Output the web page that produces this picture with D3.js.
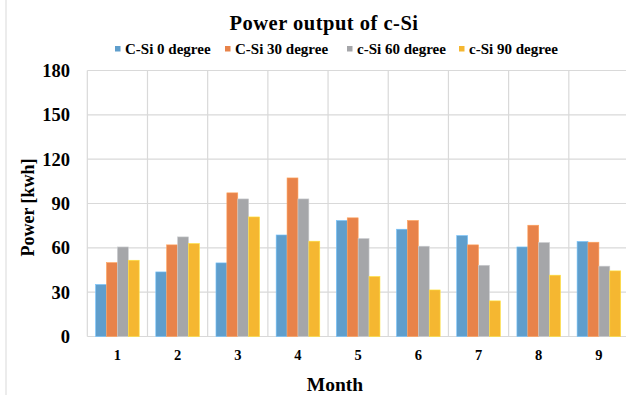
<!DOCTYPE html>
<html><head><meta charset="utf-8">
<script src="https://cdn.jsdelivr.net/npm/d3@7"></script>
<style>body{margin:0;background:#fff;}svg{display:block;}text{font-family:"Liberation Serif","Times New Roman",serif;font-weight:bold;fill:#000;}</style>
</head><body><svg id="c" width="626" height="395"></svg>
<script>
const months = ["1","2","3","4","5","6","7","8","9"];
const seriesNames = ["C-Si 0 degree","C-Si 30 degree","c-Si 60 degree","c-Si 90 degree"];
const s0 = [35.2, 43.7, 49.8, 68.7, 78.5, 72.6, 68.3, 60.6, 64.3];
const s30 = [50.0, 62.0, 97.2, 107.3, 80.3, 78.5, 62.0, 75.3, 63.8];
const s60 = [60.6, 67.4, 93.1, 93.1, 66.3, 61.1, 48.2, 63.6, 47.6];
const s90 = [51.6, 62.9, 80.9, 64.5, 40.6, 31.5, 24.1, 41.5, 44.4];
const yTicks = [0, 30, 60, 90, 120, 150, 180];
const colors = ["#5F9ECC", "#E8834A", "#A5A6A9", "#F5B731"];
const seriesVals = [s0, s30, s60, s90];

const svg = d3.select("#c");
const L = 87.3, R = 629, T = 70.5, B = 336.5;
const x = d3.scaleBand().domain(months).range([L, R]).paddingInner(0).paddingOuter(0);
const xs = d3.scaleBand().domain(d3.range(4)).range([0, x.bandwidth()]).paddingInner(0).paddingOuter(0.76);
const y = d3.scaleLinear().domain([0, 180]).range([B, T]);

// chart border line at left
svg.append("line").attr("x1",6).attr("x2",6).attr("y1",0).attr("y2",395).attr("stroke","#d9d9d9").attr("stroke-width",1);

// grid
svg.append("g").selectAll("line").data(yTicks).join("line")
  .attr("x1", L).attr("x2", R).attr("y1", d => y(d)).attr("y2", d => y(d))
  .attr("stroke", "#d9d9d9").attr("stroke-width", 1.2);
svg.append("g").selectAll("line").data(months.concat(["end"])).join("line")
  .attr("x1", (d,i) => L + i * x.bandwidth()).attr("x2", (d,i) => L + i * x.bandwidth())
  .attr("y1", T).attr("y2", B).attr("stroke", "#d9d9d9").attr("stroke-width", 1.2);

// bars
seriesVals.forEach((vals, si) => {
  svg.append("g").selectAll("rect").data(vals).join("rect")
    .attr("x", (d,i) => x(months[i]) + xs(si))
    .attr("width", xs.bandwidth())
    .attr("y", d => y(d))
    .attr("height", d => y(0) - y(d))
    .attr("fill", colors[si])
    .attr("stroke", d3.color(colors[si]).brighter(0.6))
    .attr("stroke-width", 0.6);
});

// y axis labels
const yAxis = d3.axisLeft(y).tickValues(yTicks).tickSize(0).tickPadding(0);
const gy = svg.append("g").attr("transform", `translate(70,0)`).call(yAxis);
gy.select(".domain").remove();
gy.selectAll("text").style("font-size", "18.5px").attr("dy", "0.33em");

// x axis labels
const xAxis = d3.axisBottom(x).tickSize(0).tickPadding(0);
const gx = svg.append("g").attr("transform", `translate(0,355)`).call(xAxis);
gx.select(".domain").remove();
gx.selectAll("text").style("font-size", "14.5px").attr("dy", "0.33em");

// titles
svg.append("text").attr("x", 324).attr("y", 30).attr("text-anchor","middle")
  .style("font-size","20.5px").style("letter-spacing","0.5px").text("Power output of c-Si");
svg.append("text").attr("x", 335).attr("y", 391).attr("text-anchor","middle")
  .style("font-size","19.5px").text("Month");
svg.append("text").attr("transform","translate(33.5,207.5) rotate(-90)").attr("text-anchor","middle")
  .style("font-size","18px").text("Power [kwh]");

// legend
const legX = [115, 225, 347, 459];
const lg = svg.append("g").selectAll("g").data(seriesNames).join("g")
  .attr("transform", (d,i) => `translate(${legX[i]},0)`);
lg.append("rect").attr("x",0).attr("y",46).attr("width",5.5).attr("height",5.5).attr("fill",(d,i)=>colors[i]);
lg.append("text").attr("x",10).attr("y",53.5).style("font-size","15px").text(d=>d);
</script></body></html>
